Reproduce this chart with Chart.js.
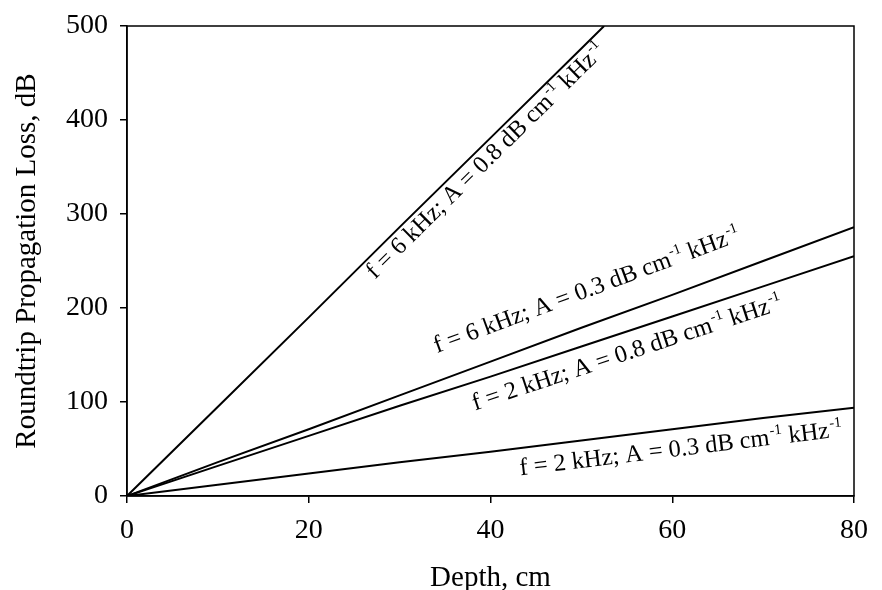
<!DOCTYPE html>
<html>
<head>
<meta charset="utf-8">
<script src="https://cdn.jsdelivr.net/npm/chart.js@4.4.1/dist/chart.umd.min.js"></script>
<style>
    html, body { margin: 0; padding: 0; background: #fff; overflow: hidden; }
    canvas { display: block; }
</style>
</head>
<body>
<canvas id="chart-loss" width="882" height="590"></canvas>
<script>
// Depth (cm) sample points
const depthShort = [0, 10, 20, 30, 40, 50, 52.5];
const depth = [0, 10, 20, 30, 40, 50, 60, 70, 80];

// Roundtrip propagation loss (dB)
const loss6k08 = [0, 95, 190, 286, 381, 476, 500];
const loss6k03 = [0, 36, 71, 107, 143, 179, 214, 250, 286];
const loss2k08 = [0, 32, 64, 96, 127, 159, 191, 223, 255];
const loss2k03 = [0, 12, 24, 36, 47, 59, 71, 83, 94];

const seriesNames = [
    ['f = 6 kHz; A = 0.8 dB cm', ' kHz'],
    ['f = 6 kHz; A = 0.3 dB cm', ' kHz'],
    ['f = 2 kHz; A = 0.8 dB cm', ' kHz'],
    ['f = 2 kHz; A = 0.3 dB cm', ' kHz']
];

const xTicks = [0, 20, 40, 60, 80];
const yTicks = [0, 100, 200, 300, 400, 500];

const SERIF = "'Liberation Serif', 'Times New Roman', serif";

// where each label text starts (data coords of its baseline start)
const labelAnchors = [
    { x: 27.3, y: 230 },
    { x: 34.1, y: 152 },
    { x: 38.3, y: 91 },
    { x: 43.3, y: 22 }
];

function toPoints(xs, ys) {
    return xs.map((v, i) => ({ x: v, y: ys[i] }));
}

function drawRich(ctx, parts, size) {
    let cx = 0;
    parts.forEach(t => {
        ctx.font = size + "px " + SERIF;
        ctx.fillText(t, cx, 0);
        cx += ctx.measureText(t).width;
        // superscript -1 after each part
        const sup = size * 0.6;
        ctx.font = sup + "px " + SERIF;
        ctx.fillText('-1', cx + 1, -size * 0.4);
        cx += ctx.measureText('-1').width + 1;
    });
}

const boxAndLabels = {
    id: 'boxAndLabels',
    afterDatasetsDraw(chart) {
        const { ctx, chartArea: a, scales: { x, y } } = chart;
        ctx.save();
        ctx.strokeStyle = '#000';
        ctx.lineWidth = 1.5;
        ctx.strokeRect(a.left, a.top, a.right - a.left, a.bottom - a.top);

        ctx.fillStyle = '#000';
        ctx.textBaseline = 'alphabetic';
        ctx.textAlign = 'left';
        chart.data.datasets.forEach((ds, i) => {
            const p0 = ds.data[0], p1 = ds.data[ds.data.length - 1];
            const ang = Math.atan2(y.getPixelForValue(p1.y) - y.getPixelForValue(p0.y),
                                   x.getPixelForValue(p1.x) - x.getPixelForValue(p0.x));
            const an = labelAnchors[i];
            ctx.save();
            ctx.translate(x.getPixelForValue(an.x), y.getPixelForValue(an.y));
            ctx.rotate(ang);
            drawRich(ctx, seriesNames[i], 24.5);
            ctx.restore();
        });
        ctx.restore();
    }
};

const lineStyle = { borderColor: '#000', borderWidth: 2, pointRadius: 0, fill: false, tension: 0 };

new Chart(document.getElementById('chart-loss'), {
    type: 'line',
    data: {
        datasets: [
            { data: toPoints(depthShort, loss6k08), ...lineStyle },
            { data: toPoints(depth, loss6k03), ...lineStyle },
            { data: toPoints(depth, loss2k08), ...lineStyle },
            { data: toPoints(depth, loss2k03), ...lineStyle }
        ]
    },
    options: {
        responsive: false,
        animation: false,
        devicePixelRatio: 1,
        layout: { padding: { top: 23, right: 13, left: 0, bottom: 0 } },
        plugins: { legend: { display: false }, tooltip: { enabled: false } },
        scales: {
            x: {
                type: 'linear',
                min: 0, max: 80,
                afterBuildTicks: s => { s.ticks = xTicks.map(v => ({ value: v })); },
                afterFit: s => { s.height = 94; },
                ticks: { color: '#000', font: { family: SERIF, size: 28, lineHeight: 1 }, padding: 14, maxRotation: 0 },
                grid: { drawOnChartArea: false, tickLength: 7, color: '#000', lineWidth: 1.5 },
                border: { color: '#000', width: 1.5 },
                title: { display: true, text: 'Depth, cm', color: '#000',
                         font: { family: SERIF, size: 29, lineHeight: 0.8 }, padding: { top: 0, bottom: 0.5 } }
            },
            y: {
                min: 0, max: 500,
                afterBuildTicks: s => { s.ticks = yTicks.map(v => ({ value: v })); },
                afterFit: s => { s.width = 127; },
                ticks: { color: '#000', font: { family: SERIF, size: 28, lineHeight: 1 }, padding: 12 },
                grid: { drawOnChartArea: false, tickLength: 7, color: '#000', lineWidth: 1.5 },
                border: { color: '#000', width: 1.5 },
                title: { display: true, text: 'Roundtrip Propagation Loss, dB', color: '#000',
                         font: { family: SERIF, size: 29, lineHeight: 1 }, padding: { top: 12.5, bottom: 0 } }
            }
        }
    },
    plugins: [boxAndLabels]
});
</script>
</body>
</html>
